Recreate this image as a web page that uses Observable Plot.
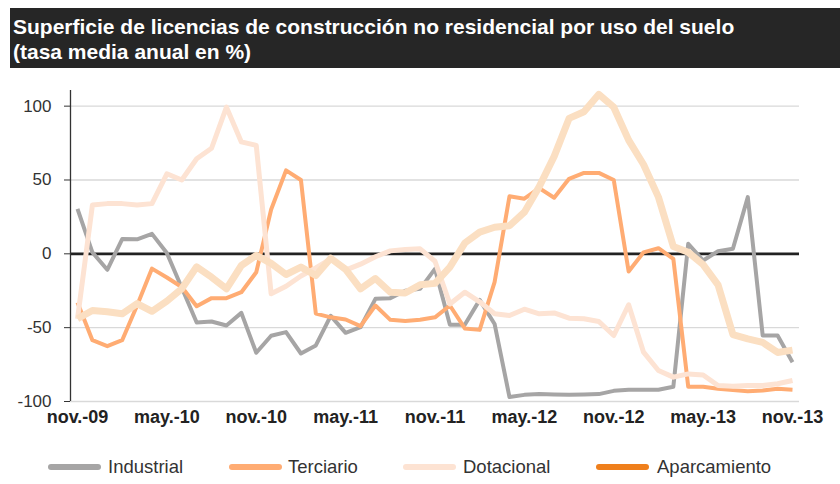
<!DOCTYPE html>
<html><head><meta charset="utf-8">
<script src="https://cdn.jsdelivr.net/npm/d3@7"></script>
<script src="https://cdn.jsdelivr.net/npm/@observablehq/plot@0.6"></script>
<style>
body{margin:0;background:#fff;font-family:"Liberation Sans",Arial,Helvetica,sans-serif;}
#wrap{position:relative;width:840px;height:484px;overflow:hidden;background:#fff}
#title{position:absolute;left:10px;top:8px;width:830px;height:60px;background:#262626;color:#fff;font-weight:bold;font-size:21px;line-height:25px;padding:6px 0 0 3px;box-sizing:border-box;white-space:nowrap}
#chart{position:absolute;left:0;top:80px}
.sw{position:absolute;height:6px;border-radius:3px;top:464px}
.lb{position:absolute;top:457px;font-size:18.5px;color:#333;line-height:20px;white-space:nowrap}
</style></head>
<body><div id="wrap">
<div id="title">Superficie de licencias de construcción no residencial por uso del suelo<br>(tasa media anual en %)</div>
<div id="chart"></div>
<div id="legend"></div>
</div>
<script>
const seriesNames = ["Industrial", "Terciario", "Dotacional", "Aparcamiento"];
const xTickLabels = ["nov.-09","may.-10","nov.-10","may.-11","nov.-11","may.-12","nov.-12","may.-13","nov.-13"];
const yTicks = [-100, -50, 0, 50, 100];

const industrial = [30.5, 1, -10.8, 10, 9.8, 13.5, 0.5, -23, -46.5, -45.8, -48.5, -40, -67, -55.5, -53, -67.5, -62, -42, -53.5, -49.7, -30.5, -30, -25, -23.7, -10.2, -48, -48, -31.2, -47.5, -97, -95.5, -95, -95.3, -95.5, -95.3, -95, -92.8, -92, -92, -92, -90, 6.8, -4.5, 1.8, 3.4, 38.4, -55.3, -55.3, -73.4];
const terciario = [-33, -58.5, -62.5, -58.5, -35, -10, -16, -22.5, -35.5, -30, -30, -26, -12.5, 30, 56.5, 50, -40.5, -43, -44.5, -49, -35, -44.7, -45.5, -44.7, -43, -35, -50.5, -51.5, -19.2, 39, 37.3, 44.5, 38, 50.8, 54.8, 54.8, 50, -12, 1, 3.8, -3.4, -90, -90, -91.4, -92.3, -93, -92.5, -91.4, -92];
const dotacional = [-44, 33, 34, 34, 33, 34, 54.2, 50, 64.4, 71.5, 99.3, 75.8, 73.4, -27, -22, -15, -9.5, -3.4, -11, -7, -2, 2, 3, 3.4, -5, -34, -26, -32.5, -40.6, -41.8, -37.5, -40.6, -40, -43.6, -44, -45.8, -55.3, -34.5, -66.6, -79, -83.5, -81.3, -82, -89.2, -89.6, -89.2, -89.2, -88, -85.8];
const aparcamiento = [-44, -38.4, -39.2, -40.6, -33.7, -38.9, -32, -23.7, -8.8, -15.8, -23.7, -7.9, -1, -6.5, -14, -9, -14.7, -3, -10.5, -23.7, -16.7, -26, -26.5, -21, -20, -9, 7.3, 14.7, 18, 19, 28.2, 45.5, 66, 91.7, 96.2, 108, 99.3, 77, 60.5, 38.4, 5, 1.1, -7.3, -21, -54.7, -57.6, -60, -66.8, -65.2];

const lineColors = ["#a6a5a5", "#ffac73", "#fde3d3", "#fbdfc2"];
const legendColors = ["#a6a5a5", "#ffac73", "#fde3d3", "#ef7f1c"];
const lineWidths = [4, 4, 5, 7];

const allSeries = [industrial, terciario, dotacional, aparcamiento];
const xMin = -0.47, xMax = 48.47, yMin = -100, yMax = 110.6;

const lineMarks = allSeries.map((vals, s) =>
  Plot.line(vals.map((v, i) => ({i, v})), {
    x: "i", y: "v", stroke: lineColors[s], strokeWidth: lineWidths[s],
    strokeLinejoin: "round", strokeLinecap: "butt"
  })
);

const chart = Plot.plot({
  width: 840, height: 350,
  marginLeft: 70, marginRight: 41, marginTop: 10, marginBottom: 29,
  x: {domain: [xMin, xMax]},
  y: {domain: [yMin, yMax]},
  style: {fontFamily: '"Liberation Sans", Arial, sans-serif', background: "transparent", overflow: "visible"},
  marks: [
    Plot.ruleY([100, 50, -50, -100], {x1: xMin, x2: xMax, stroke: "#d9d9d9", strokeWidth: 1.3}),
    Plot.ruleY([0], {x1: xMin, x2: xMax, stroke: "#222", strokeWidth: 2.6}),
    ...lineMarks,
    Plot.ruleX([xMin], {y1: yMin, y2: yMax, stroke: "#333", strokeWidth: 1.3}),
    Plot.axisY({ticks: yTicks, label: null, tickSize: 6, tickPadding: 13, fontSize: 17, color: "#333", tickFormat: d => String(d)}),
    Plot.axisX({ticks: xTickLabels.map((_, k) => k * 6), label: null, tickFormat: d => xTickLabels[Math.round(d / 6)], tickSize: 0, tickPadding: 9, fontSize: 18, fontWeight: "bold", color: "#222"})
  ]
});
document.getElementById("chart").appendChild(chart);

const swLeft = [48, 229, 403, 596];
const lbLeft = [108, 288, 463, 657];
const legend = document.getElementById("legend");
seriesNames.forEach((name, k) => {
  const sw = document.createElement("div");
  sw.className = "sw";
  sw.style.left = swLeft[k] + "px";
  sw.style.width = "53px";
  sw.style.background = legendColors[k];
  legend.appendChild(sw);
  const lb = document.createElement("div");
  lb.className = "lb";
  lb.style.left = lbLeft[k] + "px";
  lb.textContent = name;
  legend.appendChild(lb);
});
</script>
</body></html>
